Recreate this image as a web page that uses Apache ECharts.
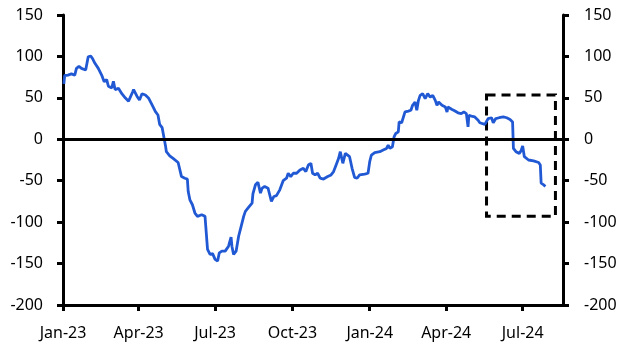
<!DOCTYPE html>
<html>
<head>
<meta charset="utf-8">
<script src="https://cdn.jsdelivr.net/npm/echarts@6/dist/echarts.min.js"></script>
<style>html,body{margin:0;padding:0;background:#fff}#c{width:631px;height:352px}</style>
</head>
<body>
<div id="c"></div>
<script>
const dates = [
'2023-01-02','2023-01-03','2023-01-07','2023-01-11','2023-01-15','2023-01-17','2023-01-20','2023-01-23','2023-01-25','2023-01-28',
'2023-01-31','2023-02-03','2023-02-05','2023-02-08','2023-02-12','2023-02-16','2023-02-19','2023-02-22','2023-02-24','2023-02-28',
'2023-03-02','2023-03-04','2023-03-08','2023-03-12','2023-03-16','2023-03-20','2023-03-22','2023-03-25','2023-03-26','2023-03-30',
'2023-04-02','2023-04-05','2023-04-09','2023-04-13','2023-04-17','2023-04-21','2023-04-24','2023-04-26','2023-04-29','2023-05-01',
'2023-05-03','2023-05-04','2023-05-08','2023-05-12','2023-05-14','2023-05-18','2023-05-20','2023-05-22','2023-05-26','2023-05-29',
'2023-05-30','2023-06-01','2023-06-04','2023-06-07','2023-06-10','2023-06-15','2023-06-19','2023-06-21','2023-06-22','2023-06-25',
'2023-06-28','2023-07-01','2023-07-04','2023-07-06','2023-07-09','2023-07-13','2023-07-17','2023-07-20','2023-07-21','2023-07-23',
'2023-07-26','2023-07-29','2023-08-01','2023-08-04','2023-08-06','2023-08-10','2023-08-14','2023-08-15','2023-08-18','2023-08-21',
'2023-08-24','2023-08-26','2023-08-29','2023-09-02','2023-09-03','2023-09-06','2023-09-09','2023-09-12','2023-09-16','2023-09-20',
'2023-09-24','2023-09-26','2023-09-29','2023-10-02','2023-10-06','2023-10-10','2023-10-14','2023-10-17','2023-10-20','2023-10-23',
'2023-10-25','2023-10-28','2023-10-31','2023-11-03','2023-11-07','2023-11-12','2023-11-16','2023-11-19','2023-11-22','2023-11-25',
'2023-11-27','2023-11-30','2023-12-03','2023-12-05','2023-12-08','2023-12-11','2023-12-14','2023-12-17','2023-12-20','2023-12-26',
'2023-12-30','2024-01-01','2024-01-03','2024-01-07','2024-01-13','2024-01-17','2024-01-21','2024-01-23','2024-01-25','2024-01-28',
'2024-01-30','2024-02-01','2024-02-04','2024-02-05','2024-02-08','2024-02-10','2024-02-12','2024-02-16','2024-02-19','2024-02-21',
'2024-02-24','2024-02-26','2024-02-28','2024-03-01','2024-03-04','2024-03-07','2024-03-10','2024-03-13','2024-03-16','2024-03-19',
'2024-03-21','2024-03-23','2024-03-27','2024-03-31','2024-04-02','2024-04-03','2024-04-08','2024-04-11','2024-04-15','2024-04-19',
'2024-04-22','2024-04-25','2024-04-27','2024-04-28','2024-05-01','2024-05-05','2024-05-09','2024-05-11','2024-05-17','2024-05-21',
'2024-05-25','2024-05-27','2024-05-30','2024-06-03','2024-06-08','2024-06-12','2024-06-16','2024-06-19','2024-06-20','2024-06-23',
'2024-06-27','2024-06-29','2024-07-01','2024-07-03','2024-07-08','2024-07-14','2024-07-20','2024-07-22','2024-07-23','2024-07-26',
'2024-07-28'
];
const values = [
67,77,77.5,79,77.5,85.6,88,85.6,87.6,83.6,
99.6,100.5,97.7,91.7,85.6,77.5,69.5,72,64,62,
70,60,61.5,55,50,46,44.6,57.4,60,52,
47.4,55,53.4,49.5,41.4,33.3,29.3,18,14,13,
-8,-15,-20,-23,-24,-28,-29,-45,-47,-48,
-63,-73,-79,-89,-93,-91,-93,-95,-133,-139,
-138,-145,-147,-137,-135,-135,-129,-118,-129,-139,
-135,-117,-105,-93,-87,-82,-77,-66,-55,-52,
-65,-59,-57,-59,-63,-75,-69,-68,-61,-50,
-47,-41,-45,-41,-41,-37,-35,-39,-31,-29,
-41,-43,-41,-47,-48,-45,-43,-39,-31,-23,
-15,-29,-17,-17,-21,-35,-46,-47,-43,-42,
-41,-27,-19,-16,-15,-13,-11,-7,-11,-9,
3,7,9,21,20,21,33,34,35,41,
45,35,47,53,55,49,55,51,53,47,
41,45,41,39,33,39,36,34.5,32,31,
33,31,15,29,28,27,23,20,18,25,
26,20,25,26,27,26,24,21,-11,-15,
-17,-14,-8,-21,-25,-26,-28,-31,-53,-55,
-57
];
const tickDates = ['2023-01-01','2023-04-01','2023-07-01','2023-10-01','2024-01-01','2024-04-01','2024-07-01'];
const tickLabels = ['Jan-23','Apr-23','Jul-23','Oct-23','Jan-24','Apr-24','Jul-24'];
const xRange = ['2023-01-01','2024-08-18'];
const yTicks = [-200,-150,-100,-50,0,50,100,150];
const boxX = ['2024-05-19','2024-08-09'];
const boxY = [53.5,-93];

function ts(s){const p=s.split('-').map(Number);return Date.UTC(p[0],p[1]-1,p[2]);}
const tickVals = tickDates.map(ts);
const font = {fontFamily:'Noto Sans', fontSize:16, color:'#000'};

const chart = echarts.init(document.getElementById('c'), null, {renderer:'canvas'});
const yAxisBase = {
  type:'value', min:yTicks[0], max:yTicks[yTicks.length-1], interval:50,
  splitLine:{show:false},
  axisLine:{show:true, lineStyle:{color:'#000', width:3}},
  axisTick:{show:true, length:6, lineStyle:{color:'#000', width:3}},
  axisLabel:Object.assign({margin:20}, font)
};
chart.setOption({
  animation:false,
  grid:{left:63, right:68, top:15, bottom:47, containLabel:false},
  xAxis:{
    type:'value', min:ts(xRange[0]), max:ts(xRange[1]),
    splitLine:{show:false},
    axisLine:{show:true, onZero:false, lineStyle:{color:'#000', width:3}},
    axisTick:{show:true, length:6, customValues:tickVals, lineStyle:{color:'#000', width:3}},
    axisLabel:Object.assign({margin:20, customValues:tickVals, formatter:function(v){
      const i = tickVals.indexOf(v); return i>=0 ? tickLabels[i] : '';
    }}, font)
  },
  yAxis:[
    Object.assign({position:'left'}, yAxisBase),
    Object.assign({position:'right'}, yAxisBase, {axisLabel:Object.assign({margin:21}, font)})
  ],
  series:[{
    type:'line', yAxisIndex:0, showSymbol:false, symbol:'none',
    data:dates.map((d,i)=>[ts(d), values[i]]),
    lineStyle:{color:'#2159d4', width:2.8},
    markLine:{
      silent:true, symbol:'none', label:{show:false},
      lineStyle:{color:'#000', width:3, type:'solid'},
      data:[{yAxis:0}]
    },
    markArea:{
      silent:true, label:{show:false},
      itemStyle:{color:'rgba(0,0,0,0)', borderColor:'#000', borderWidth:3, borderType:[9,6]},
      data:[[{coord:[ts(boxX[0]), boxY[0]]},{coord:[ts(boxX[1]), boxY[1]]}]]
    }
  }]
});
</script>
</body>
</html>
